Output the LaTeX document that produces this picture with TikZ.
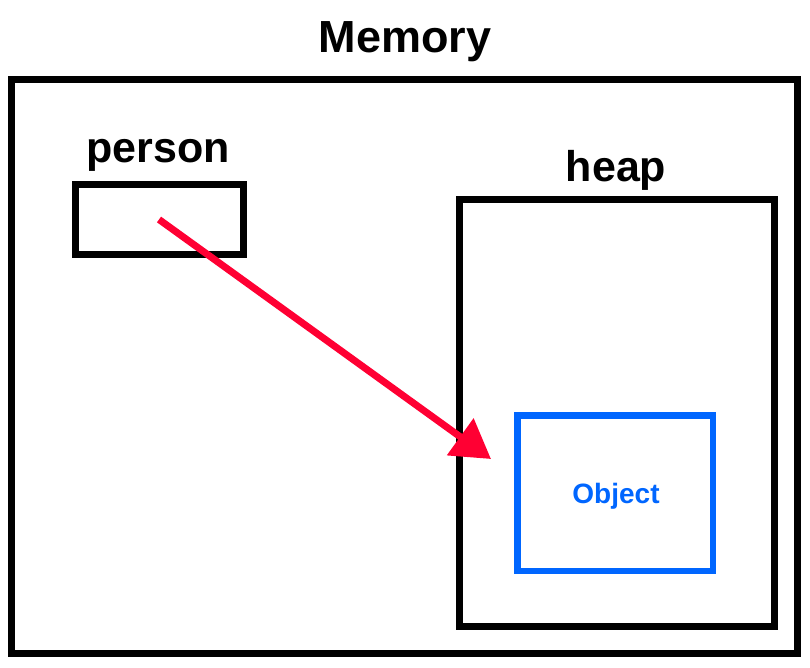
\documentclass[tikz,border=0pt]{standalone}
\usepackage{fontspec}
\setmainfont{Liberation Sans}
\usetikzlibrary{arrows.meta}
\definecolor{objblue}{HTML}{0066FF}
\definecolor{ptrred}{HTML}{FF0033}
\tikzset{
  box/.style={draw=black, line width=7pt, inner sep=0pt, outer sep=0pt, rectangle},
  objbox/.style={draw=objblue, line width=6.5pt, inner sep=0pt, outer sep=0pt, rectangle},
  lbl/.style={anchor=base, inner sep=0pt, font=\fontsize{43}{50}\selectfont\bfseries},
  ptr/.style={draw=ptrred, line width=7pt, -{Triangle[width=44pt,length=38pt]}}
}
\begin{document}
\begin{tikzpicture}[x=1pt,y=-1pt]
\useasboundingbox (0,0) rectangle (810,668);
\node[box, minimum width=786.5pt, minimum height=573pt] (memory) at (404.25,366.5) {};
\node[box, minimum width=168pt, minimum height=69pt] (person) at (159,219.5) {};
\node[box, minimum width=315pt, minimum height=426pt] (heap) at (616.5,413) {};
\node[objbox, minimum width=195.3pt, minimum height=155.3pt] (object) at (615.35,493.35) {};
\node[lbl, font=\fontsize{45}{52}\selectfont\bfseries] (memlbl) at (405,53) {Memory};
\node[lbl] (perlbl) at (158,163) {person};
\node[lbl] (heaplbl) at (616,182) {heap};
\node[anchor=base, inner sep=0pt, text=objblue, font=\fontsize{28}{34}\selectfont\bfseries] (objlbl) at (616,503) {Object};
\coordinate (tip) at (491,459);
\draw[ptr] (person.center) -- (tip);
\end{tikzpicture}
\end{document}
